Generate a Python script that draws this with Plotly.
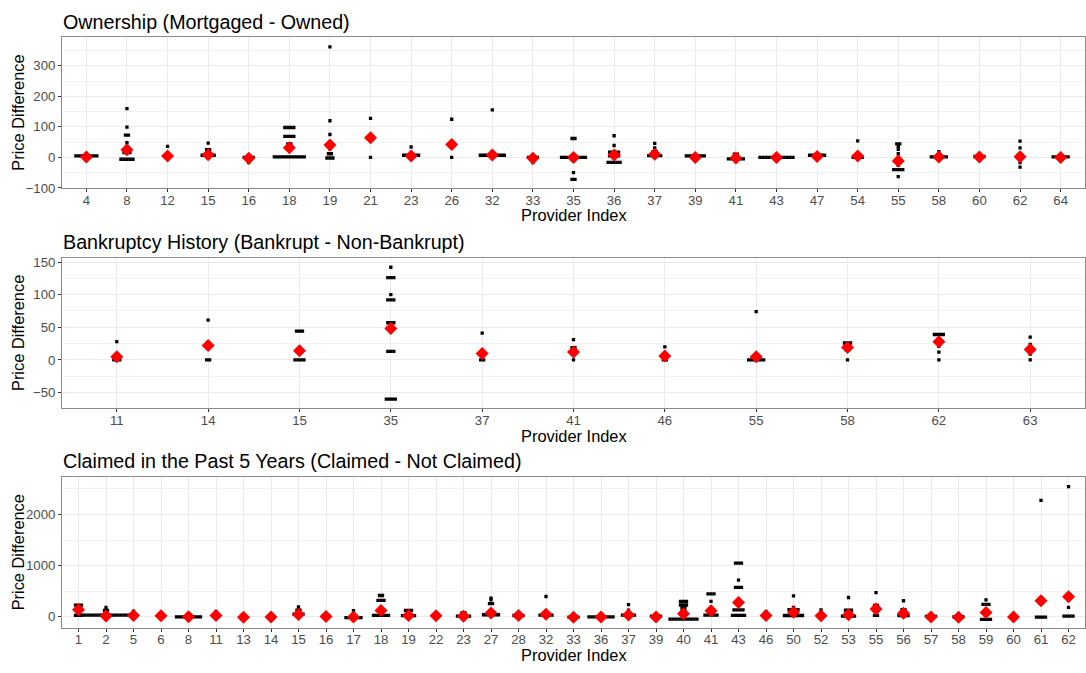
import plotly.graph_objects as go

# ---------------- data ----------------
# Panel 1: Ownership (Mortgaged - Owned)
own_providers = ["4", "8", "12", "15", "16", "18", "19", "21", "23", "26", "32", "33", "35",
                 "36", "37", "39", "41", "43", "47", "54", "55", "58", "60", "62", "64"]
own_points = [
    [(5, 8)],
    [(160, 1), (99, 1), (73, 2), (48, 1), (16, 3), (-6, 5)],
    [(36, 1), (8, 1), (3, 2)],
    [(47, 1), (25, 2), (7, 5)],
    [(0, 4), (-17, 1)],
    [(98, 4), (69, 4), (44, 2), (2, 11)],
    [(362, 1), (120, 1), (75, 1), (41, 1), (28, 1), (12, 2), (-2, 3)],
    [(128, 1), (0, 1)],
    [(34, 1), (7, 6)],
    [(125, 1), (0, 1)],
    [(156, 1), (7, 9)],
    [(0, 4), (-17, 1)],
    [(62, 2), (0, 9), (-50, 1), (-72, 2)],
    [(71, 1), (39, 1), (17, 4), (5, 4), (-16, 5)],
    [(46, 1), (31, 1), (25, 1), (19, 2), (6, 5)],
    [(5, 7)],
    [(11, 2), (-5, 6)],
    [(0, 12)],
    [(7, 6)],
    [(54, 1), (5, 1), (0, 4)],
    [(44, 2), (36, 1), (26, 1), (12, 1), (-26, 1), (-40, 4), (-63, 1)],
    [(19, 1), (2, 6)],
    [(3, 4)],
    [(53, 1), (31, 1), (8, 2), (-17, 1), (-32, 1)],
    [(2, 6)],
]
own_means = [1, 25, 5, 9, -3, 32, 41, 64, 5, 42, 8, -3, 0, 8, 10, 0, -2, 0, 3, 5, -12, 1, 1, 2, 0]

# Panel 2: Bankruptcy History (Bankrupt - Non-Bankrupt)
bank_providers = ["11", "14", "15", "35", "37", "41", "46", "55", "58", "62", "63"]
bank_points = [
    [(28, 1), (0, 3)],
    [(61, 1), (27, 1), (0, 2)],
    [(44, 3), (0, 4)],
    [(142, 1), (126, 3), (100, 1), (92, 3), (57, 3), (13, 3), (-60, 4)],
    [(41, 1), (0, 2)],
    [(31, 1), (19, 2), (0, 1)],
    [(20, 1), (0, 2)],
    [(74, 1), (0, 6)],
    [(26, 3), (23, 2), (16, 2), (0, 1)],
    [(39, 4), (28, 2), (21, 1), (12, 1), (0, 1)],
    [(35, 1), (24, 1), (20, 1), (9, 1), (0, 1)],
]
bank_means = [5, 22, 14, 48, 10, 12, 6, 5, 19, 28, 16]

# Panel 3: Claimed in the Past 5 Years (Claimed - Not Claimed)
claim_providers = ["1", "2", "5", "6", "8", "11", "13", "14", "15", "16", "17", "18", "19",
                   "22", "23", "27", "28", "32", "33", "36", "37", "39", "40", "41", "43",
                   "46", "50", "52", "53", "55", "56", "57", "58", "59", "60", "61", "62"]
claim_points = [
    [(228, 3), (205, 2), (30, 3)],
    [(186, 1), (125, 2), (32, 17)],
    [(110, 1), (35, 3)],
    [(20, 1)],
    [(0, 9)],
    [(100, 1), (25, 3)],
    [(-10, 1)],
    [(-5, 1)],
    [(192, 1), (130, 2), (51, 4)],
    [(13, 3)],
    [(122, 1), (-15, 6)],
    [(417, 2), (320, 3), (30, 6)],
    [(125, 3), (25, 5)],
    [(20, 1)],
    [(77, 2), (13, 5)],
    [(365, 1), (330, 1), (256, 2), (40, 6)],
    [(26, 4)],
    [(397, 1), (32, 5)],
    [(-5, 4)],
    [(0, 9)],
    [(237, 1), (128, 1), (32, 5)],
    [(13, 4)],
    [(301, 3), (231, 3), (173, 2), (109, 2), (-45, 10)],
    [(448, 3), (301, 1), (32, 5)],
    [(1051, 3), (718, 1), (577, 3), (135, 4), (30, 5)],
    [(100, 1), (20, 2)],
    [(410, 1), (186, 1), (141, 4), (26, 7)],
    [(135, 1), (25, 3)],
    [(378, 1), (128, 3), (13, 5)],
    [(474, 1), (224, 2), (185, 1), (30, 2)],
    [(314, 1), (141, 2), (90, 1), (26, 4)],
    [(10, 4)],
    [(0, 4)],
    [(333, 1), (245, 3), (-48, 4)],
    [(-5, 1)],
    [(2275, 1), (-5, 4)],
    [(2544, 1), (186, 1), (13, 4)],
]
claim_means = [140, 15, 26, 20, 0, 25, -10, -5, 45, 5, -5, 125, 25, 20, 10, 77, 26, 50, -8,
               -5, 38, -5, 58, 120, 280, 25, 90, 20, 40, 154, 71, -5, -8, 85, -5, 315, 392]

panels = [
    ("Ownership (Mortgaged - Owned)", own_providers, own_points, own_means,
     [-100, 393], 100, 50),
    ("Bankruptcy History (Bankrupt - Non-Bankrupt)", bank_providers, bank_points, bank_means,
     [-74, 156.5], 50, 25),
    ("Claimed in the Past 5 Years (Claimed - Not Claimed)", claim_providers, claim_points,
     claim_means, [-211, 2730], 1000, 500),
]

# ---------------- layout constants ----------------
W, H = 1086, 673
PX_LEFT, PX_RIGHT = 62, 1085
panel_px = [(35, 188), (259, 412), (482, 635)]
DOT_PX = 3.0
FONT = "Liberation Sans, Arial, sans-serif"

fig = go.Figure()
annotations = []

for k, (title, provs, pts, means, yrange, dtick, mdtick) in enumerate(panels):
    n = len(provs)
    sfx = "" if k == 0 else str(k + 1)
    xa, ya = "x" + sfx, "y" + sfx
    px_per_cat = (PX_RIGHT - PX_LEFT) / (n + 0.2)
    step = DOT_PX / px_per_cat
    xs, ys = [], []
    for i, groups in enumerate(pts):
        for val, cnt in groups:
            for j in range(cnt):
                xs.append(i + (j - (cnt - 1) / 2) * step)
                ys.append(val)
    fig.add_trace(go.Scatter(x=xs, y=ys, mode="markers", xaxis=xa, yaxis=ya,
                             marker=dict(color="black", size=3.3, symbol="square",
                                         line=dict(width=0)),
                             showlegend=False, hoverinfo="skip"))
    fig.add_trace(go.Scatter(x=list(range(n)), y=means, mode="markers", xaxis=xa, yaxis=ya,
                             marker=dict(color="red", size=10, symbol="diamond",
                                         line=dict(width=0)),
                             showlegend=False))
    top, bot = panel_px[k]
    ydom = [1 - bot / H, 1 - top / H]
    xdom = [PX_LEFT / W, PX_RIGHT / W]
    axis_common = dict(showline=True, mirror=True, linecolor="#8a8a8a", linewidth=1,
                       ticks="outside", ticklen=3, tickcolor="#333333", tickwidth=1,
                       tickfont=dict(family=FONT, size=13.2, color="#4D4D4D"),
                       showgrid=True, gridcolor="#EBEBEB", gridwidth=1, zeroline=False)
    xaxis_cfg = dict(domain=xdom, anchor=ya, range=[-0.6, n - 0.4],
                     tickmode="array", tickvals=list(range(n)),
                     ticktext=provs, **axis_common)
    try:
        fig.layout["xaxis" + sfx] = dict(xaxis_cfg, ticklabelstandoff=-3)
    except Exception:
        fig.layout["xaxis" + sfx] = xaxis_cfg
    fig.layout["yaxis" + sfx] = dict(domain=ydom, anchor=xa, range=yrange,
                                     tick0=0, dtick=dtick,
                                     minor=dict(dtick=mdtick, tick0=0, showgrid=True,
                                                gridcolor="#F1F1F1", gridwidth=1, ticks=""),
                                     **axis_common)
    # titles
    annotations.append(dict(text=title, xref="paper", yref="paper", x=(PX_LEFT - 1) / W,
                            y=1 - (top - 16) / H, xanchor="left", yanchor="middle",
                            showarrow=False, font=dict(family=FONT, size=19.7, color="black")))
    annotations.append(dict(text="Provider Index", xref="paper", yref="paper",
                            x=(PX_LEFT + PX_RIGHT) / 2 / W, y=1 - (bot + 28) / H,
                            xanchor="center", yanchor="middle", showarrow=False,
                            font=dict(family=FONT, size=16.4, color="black")))
    annotations.append(dict(text="Price Difference", xref="paper", yref="paper",
                            x=18 / W, y=1 - (top + bot) / 2 / H, textangle=-90,
                            xanchor="center", yanchor="middle", showarrow=False,
                            font=dict(family=FONT, size=16.4, color="black")))

fig.update_layout(width=W, height=H, margin=dict(l=0, r=0, t=0, b=0),
                  paper_bgcolor="white", plot_bgcolor="white",
                  annotations=annotations, showlegend=False)

fig.write_html("out.html")
